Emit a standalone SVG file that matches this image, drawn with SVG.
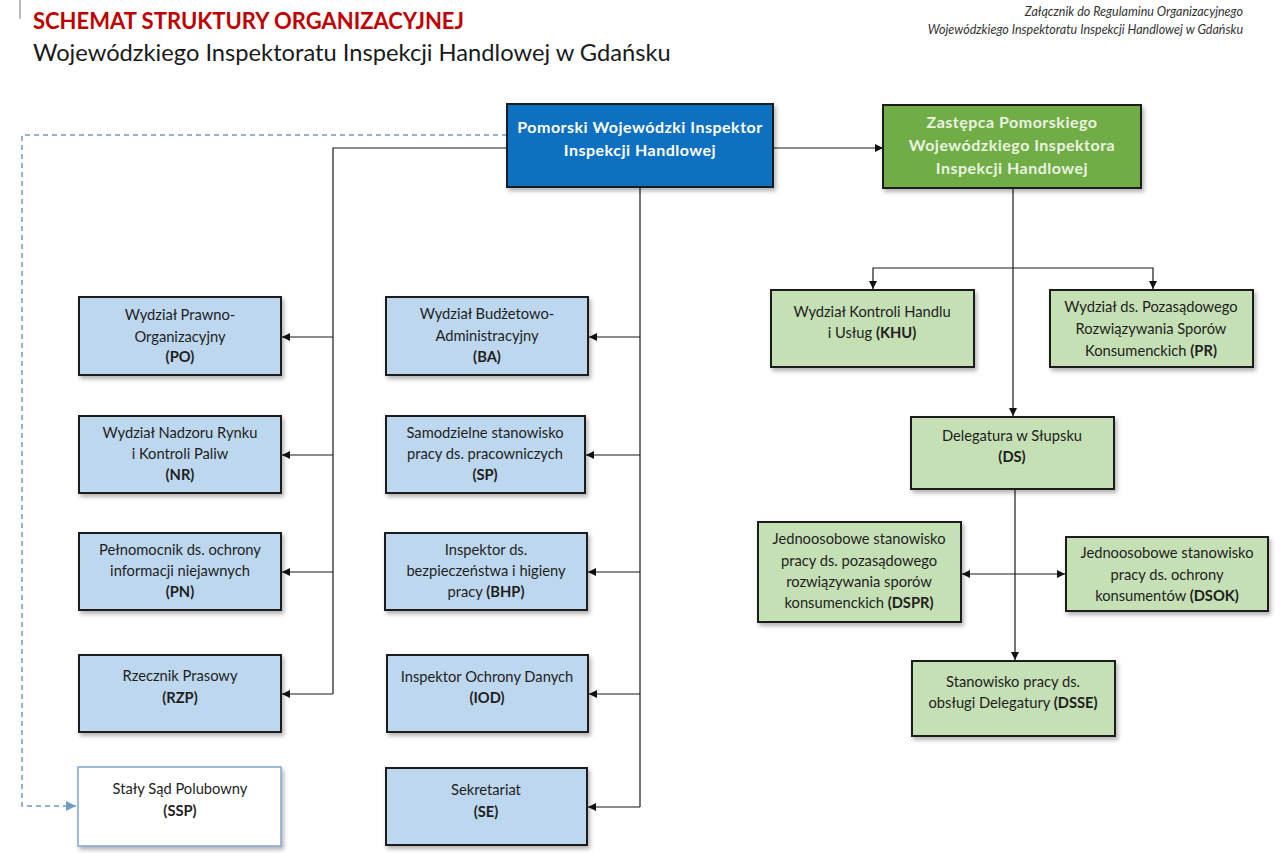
<svg xmlns="http://www.w3.org/2000/svg" width="1280" height="853" viewBox="0 0 1280 853">
<style>
text{font-family:Lato,"Liberation Sans",sans-serif;}
.t{font-size:14.7px;fill:#1e1e1e;text-anchor:middle;}
.b{font-weight:bold;}
.h{font-size:16px;font-weight:bold;letter-spacing:0.5px;text-anchor:middle;}
.box{stroke:#1f1f1f;stroke-width:2;filter:url(#sh);}
.lb{fill:#bdd7ee;}
.lg{fill:#c5e0b4;}
.c{fill:none;stroke:#1a1a1a;stroke-width:1.2;}
.d{fill:none;stroke:#6f9cc6;stroke-width:1.5;stroke-dasharray:5,4;}
</style>
<defs>
<filter id="sh" x="-10%" y="-10%" width="130%" height="140%">
<feDropShadow dx="2" dy="3" stdDeviation="2" flood-color="#000" flood-opacity="0.3"/>
</filter>
<marker id="a" viewBox="0 0 10 10" refX="10" refY="5" markerWidth="8" markerHeight="8" markerUnits="userSpaceOnUse" orient="auto-start-reverse">
<path d="M0,0 L10,5 L0,10 z" fill="#111"/>
</marker>
<marker id="ad" viewBox="0 0 10 10" refX="10" refY="5" markerWidth="10" markerHeight="10" markerUnits="userSpaceOnUse" orient="auto">
<path d="M0,0 L10,5 L0,10 z" fill="#6f9cc6"/>
</marker>
</defs>
<rect width="1280" height="853" fill="#fff"/>
<line x1="20" y1="0" x2="20" y2="19" stroke="#777" stroke-width="1"/>
<g id="title">
<text x="33" y="29" font-size="22" font-weight="bold" fill="#c00000">SCHEMAT STRUKTURY ORGANIZACYJNEJ</text>
<text x="33" y="61" font-size="23.7" fill="#1a1a1a">Wojewódzkiego Inspektoratu Inspekcji Handlowej w Gdańsku</text>
<text x="1243" y="16" font-size="12.5" font-style="italic" fill="#333" text-anchor="end">Załącznik do Regulaminu Organizacyjnego</text>
<text x="1243" y="34" font-size="12.5" font-style="italic" fill="#333" text-anchor="end">Wojewódzkiego Inspektoratu Inspekcji Handlowej w Gdańsku</text>
</g>
<g id="connectors">
<polyline class="d" points="507,135 22,135 22,806 76,806" marker-end="url(#ad)"/>
<line class="c" x1="773" y1="148" x2="883" y2="148" marker-end="url(#a)"/>
<polyline class="c" points="507,148 333,148 333,694"/>
<line class="c" x1="333" y1="337" x2="282" y2="337" marker-end="url(#a)"/>
<line class="c" x1="333" y1="455" x2="282" y2="455" marker-end="url(#a)"/>
<line class="c" x1="333" y1="572" x2="282" y2="572" marker-end="url(#a)"/>
<line class="c" x1="333" y1="694" x2="282" y2="694" marker-end="url(#a)"/>
<line class="c" x1="640" y1="188" x2="640" y2="807"/>
<line class="c" x1="640" y1="337" x2="589" y2="337" marker-end="url(#a)"/>
<line class="c" x1="640" y1="455" x2="586" y2="455" marker-end="url(#a)"/>
<line class="c" x1="640" y1="572" x2="588" y2="572" marker-end="url(#a)"/>
<line class="c" x1="640" y1="694" x2="589" y2="694" marker-end="url(#a)"/>
<line class="c" x1="640" y1="807" x2="588" y2="807" marker-end="url(#a)"/>
<line class="c" x1="1013" y1="189" x2="1013" y2="416" marker-end="url(#a)"/>
<polyline class="c" points="873,289 873,268 1153,268 1153,289" marker-start="url(#a)" marker-end="url(#a)"/>
<line class="c" x1="1015" y1="490" x2="1015" y2="660" marker-end="url(#a)"/>
<line class="c" x1="962" y1="574" x2="1065" y2="574" marker-start="url(#a)" marker-end="url(#a)"/>
</g>
<g id="PWIIH">
<rect class="box" x="507" y="104" width="266" height="83" fill="#0a6fc1"/>
<text class="h" x="640" y="133" fill="#fff">Pomorski Wojewódzki Inspektor</text>
<text class="h" x="640" y="156" fill="#fff">Inspekcji Handlowej</text>
</g>
<g id="ZPWIIH">
<rect class="box" x="883" y="105" width="258" height="83" fill="#70ad47"/>
<text class="h" x="1012" y="128" fill="#eaf3e0">Zastępca Pomorskiego</text>
<text class="h" x="1012" y="151" fill="#eaf3e0">Wojewódzkiego Inspektora</text>
<text class="h" x="1012" y="174" fill="#eaf3e0">Inspekcji Handlowej</text>
</g>
<g id="PO">
<rect class="box lb" x="79" y="297" width="202" height="78"/>
<text class="t" x="180" y="320">Wydział Prawno-</text>
<text class="t" x="180" y="342">Organizacyjny</text>
<text class="t b" x="180" y="362">(PO)</text>
</g>
<g id="NR">
<rect class="box lb" x="79" y="416" width="202" height="77"/>
<text class="t" x="180" y="438">Wydział Nadzoru Rynku</text>
<text class="t" x="180" y="459">i Kontroli Paliw</text>
<text class="t b" x="180" y="480">(NR)</text>
</g>
<g id="PN">
<rect class="box lb" x="79" y="533" width="202" height="77"/>
<text class="t" x="180" y="555">Pełnomocnik ds. ochrony</text>
<text class="t" x="180" y="576">informacji niejawnych</text>
<text class="t b" x="180" y="597">(PN)</text>
</g>
<g id="RZP">
<rect class="box lb" x="79" y="655" width="202" height="77"/>
<text class="t" x="180" y="681">Rzecznik Prasowy</text>
<text class="t b" x="180" y="703">(RZP)</text>
</g>
<g id="SSP">
<rect x="78" y="767" width="203" height="79" fill="#fff" stroke="#7fa7cf" stroke-width="1.5" filter="url(#sh)"/>
<text class="t" x="180" y="794">Stały Sąd Polubowny</text>
<text class="t b" x="180" y="816">(SSP)</text>
</g>
<g id="BA">
<rect class="box lb" x="386" y="297" width="202" height="78"/>
<text class="t" x="487" y="319">Wydział Budżetowo-</text>
<text class="t" x="487" y="341">Administracyjny</text>
<text class="t b" x="487" y="362">(BA)</text>
</g>
<g id="SP">
<rect class="box lb" x="386" y="416" width="199" height="77"/>
<text class="t" x="485" y="438">Samodzielne stanowisko</text>
<text class="t" x="485" y="459">pracy ds. pracowniczych</text>
<text class="t b" x="485" y="480">(SP)</text>
</g>
<g id="BHP">
<rect class="box lb" x="385" y="533" width="202" height="77"/>
<text class="t" x="486" y="555">Inspektor ds.</text>
<text class="t" x="486" y="576">bezpieczeństwa i higieny</text>
<text class="t" x="486" y="597">pracy <tspan class="b">(BHP)</tspan></text>
</g>
<g id="IOD">
<rect class="box lb" x="387" y="655" width="201" height="77"/>
<text class="t" x="487" y="682">Inspektor Ochrony Danych</text>
<text class="t b" x="487" y="703">(IOD)</text>
</g>
<g id="SE">
<rect class="box lb" x="386" y="768" width="201" height="77"/>
<text class="t" x="486" y="795">Sekretariat</text>
<text class="t b" x="486" y="817">(SE)</text>
</g>
<g id="KHU">
<rect class="box lg" x="771" y="290" width="203" height="77"/>
<text class="t" x="872" y="317">Wydział Kontroli Handlu</text>
<text class="t" x="872" y="338">i Usług <tspan class="b">(KHU)</tspan></text>
</g>
<g id="PR">
<rect class="box lg" x="1050" y="290" width="203" height="77"/>
<text class="t" x="1151" y="312">Wydział ds. Pozasądowego</text>
<text class="t" x="1151" y="334">Rozwiązywania Sporów</text>
<text class="t" x="1151" y="356">Konsumenckich <tspan class="b">(PR)</tspan></text>
</g>
<g id="DS">
<rect class="box lg" x="911" y="417" width="203" height="72"/>
<text class="t" x="1012" y="441">Delegatura w Słupsku</text>
<text class="t b" x="1012" y="462">(DS)</text>
</g>
<g id="DSPR">
<rect class="box lg" x="758" y="522" width="203" height="100"/>
<text class="t" x="859" y="544">Jednoosobowe stanowisko</text>
<text class="t" x="859" y="566">pracy ds. pozasądowego</text>
<text class="t" x="859" y="587">rozwiązywania sporów</text>
<text class="t" x="859" y="608">konsumenckich <tspan class="b">(DSPR)</tspan></text>
</g>
<g id="DSOK">
<rect class="box lg" x="1066" y="537" width="202" height="74"/>
<text class="t" x="1167" y="558">Jednoosobowe stanowisko</text>
<text class="t" x="1167" y="580">pracy ds. ochrony</text>
<text class="t" x="1167" y="601">konsumentów <tspan class="b">(DSOK)</tspan></text>
</g>
<g id="DSSE">
<rect class="box lg" x="912" y="661" width="203" height="75"/>
<text class="t" x="1013" y="687">Stanowisko pracy ds.</text>
<text class="t" x="1013" y="708">obsługi Delegatury <tspan class="b">(DSSE)</tspan></text>
</g>
</svg>
